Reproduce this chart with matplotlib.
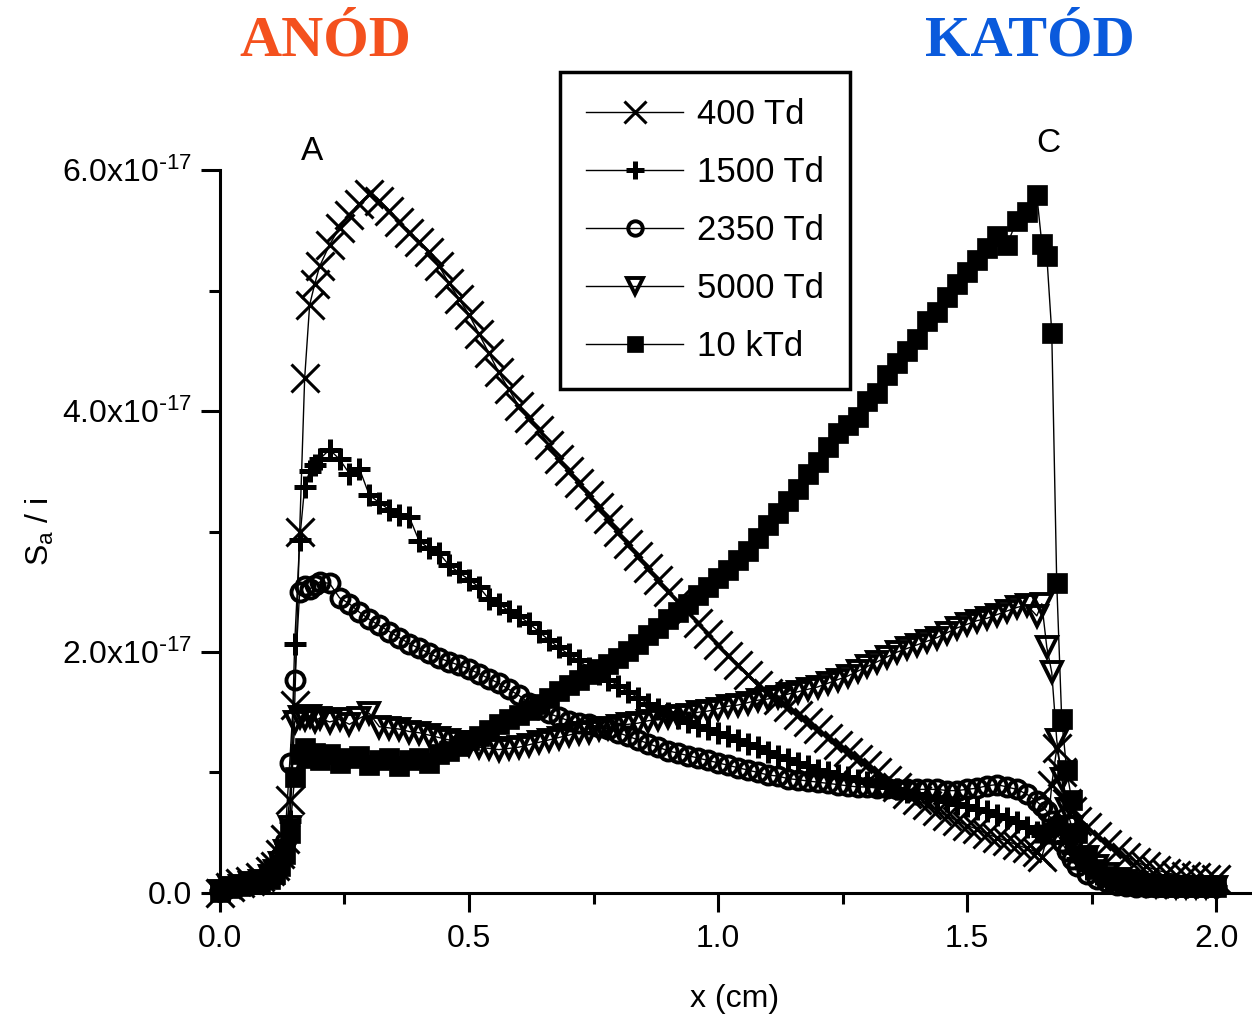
import numpy as np
import matplotlib
matplotlib.use('Agg')
from matplotlib import pyplot as plt
from matplotlib.ticker import FuncFormatter

plt.rcParams['font.family'] = ['Liberation Sans', 'DejaVu Sans']
plt.rcParams['mathtext.default'] = 'regular'

# sample positions (cm): coarse grid plus finer steps at the two edges
x_pos = np.round(np.concatenate([
    np.arange(0.0, 0.101, 0.02),
    np.arange(0.11, 0.2005, 0.01),
    np.arange(0.22, 1.6405, 0.02),
    np.arange(1.65, 1.7205, 0.01),
    np.arange(1.74, 2.0005, 0.02),
]), 2)

# S_a / i in units of 1e-17
s_400 = [0.00, 0.05, 0.08, 0.10, 0.13, 0.18,
         0.22, 0.32, 0.45, 0.77, 1.56, 3.00, 4.27, 4.88, 5.05, 5.20,
         5.38, 5.52, 5.63, 5.72, 5.80, 5.74, 5.66, 5.57, 5.48, 5.40,
         5.32, 5.20, 5.06, 4.93, 4.80, 4.64, 4.48, 4.32, 4.18, 4.04,
         3.94, 3.84, 3.72, 3.60, 3.50, 3.40, 3.30, 3.20, 3.10, 3.00,
         2.90, 2.80, 2.70, 2.60, 2.50, 2.42, 2.33, 2.24, 2.15, 2.06,
         1.97, 1.89, 1.81, 1.73, 1.66, 1.60, 1.54, 1.48, 1.42, 1.36,
         1.29, 1.23, 1.17, 1.11, 1.06, 1.00, 0.94, 0.88, 0.82, 0.77,
         0.73, 0.68, 0.64, 0.60, 0.56, 0.53, 0.49, 0.46, 0.43, 0.40,
         0.37, 0.34,
         0.30, 0.45, 0.90, 1.20, 1.00, 0.75, 0.68, 0.60,
         0.55, 0.47, 0.41, 0.35, 0.30, 0.26, 0.22, 0.19, 0.17, 0.15, 0.14, 0.13, 0.12, 0.12]

s_1500 = [0.02, 0.05, 0.07, 0.09, 0.11, 0.15,
          0.20, 0.30, 0.42, 0.60, 2.07, 2.93, 3.37, 3.50, 3.55, 3.60,
          3.68, 3.60, 3.48, 3.52, 3.30, 3.24, 3.18, 3.14, 3.12, 2.92,
          2.86, 2.82, 2.72, 2.66, 2.60, 2.54, 2.44, 2.40, 2.34, 2.30,
          2.24, 2.17, 2.10, 2.04, 1.98, 1.93, 1.87, 1.82, 1.77, 1.72,
          1.67, 1.62, 1.57, 1.53, 1.49, 1.45, 1.42, 1.39, 1.36, 1.33,
          1.30, 1.27, 1.24, 1.21, 1.17, 1.14, 1.11, 1.08, 1.05, 1.02,
          1.00, 0.98, 0.96, 0.94, 0.92, 0.90, 0.88, 0.86, 0.84, 0.82,
          0.80, 0.78, 0.76, 0.74, 0.72, 0.70, 0.68, 0.65, 0.62, 0.59,
          0.55, 0.51,
          0.48, 0.50, 0.55, 0.60, 0.52, 0.42, 0.34, 0.28,
          0.20, 0.16, 0.12, 0.10, 0.08, 0.07, 0.06, 0.06, 0.05, 0.05, 0.05, 0.05, 0.05, 0.05]

s_2350 = [0.02, 0.05, 0.07, 0.09, 0.11, 0.15,
          0.20, 0.30, 0.42, 1.08, 1.77, 2.50, 2.55, 2.52, 2.56, 2.58,
          2.57, 2.45, 2.40, 2.33, 2.27, 2.22, 2.17, 2.12, 2.07, 2.03,
          1.99, 1.95, 1.92, 1.89, 1.86, 1.82, 1.78, 1.74, 1.69, 1.64,
          1.58, 1.53, 1.49, 1.46, 1.43, 1.41, 1.40, 1.38, 1.36, 1.33,
          1.30, 1.27, 1.24, 1.21, 1.18, 1.16, 1.14, 1.12, 1.10, 1.08,
          1.06, 1.04, 1.02, 1.00, 0.98, 0.97, 0.95, 0.94, 0.93, 0.92,
          0.91, 0.90, 0.89, 0.88, 0.88, 0.87, 0.87, 0.86, 0.86, 0.86,
          0.86, 0.86, 0.85, 0.85, 0.86, 0.87, 0.89, 0.90, 0.88, 0.86,
          0.82, 0.76,
          0.72, 0.68, 0.60, 0.50, 0.42, 0.35, 0.28, 0.22,
          0.16, 0.12, 0.09, 0.07, 0.06, 0.05, 0.05, 0.05, 0.05, 0.05, 0.05, 0.05, 0.05, 0.05]

s_5000 = [0.02, 0.04, 0.06, 0.08, 0.10, 0.14,
          0.18, 0.25, 0.35, 0.55, 1.42, 1.46, 1.44, 1.47, 1.43, 1.45,
          1.42, 1.44, 1.40, 1.45, 1.49, 1.38, 1.37, 1.36, 1.34, 1.33,
          1.31, 1.29, 1.27, 1.25, 1.23, 1.21, 1.20, 1.19, 1.20, 1.21,
          1.23, 1.25, 1.27, 1.29, 1.31, 1.33, 1.34, 1.36, 1.37, 1.39,
          1.40, 1.41, 1.43, 1.44, 1.46, 1.47, 1.48, 1.50, 1.51, 1.53,
          1.55, 1.56, 1.58, 1.60, 1.61, 1.63, 1.65, 1.67, 1.69, 1.71,
          1.74, 1.77, 1.80, 1.84, 1.88, 1.92, 1.96, 2.00, 2.03, 2.06,
          2.09, 2.12, 2.16, 2.20, 2.23, 2.26, 2.28, 2.31, 2.34, 2.37,
          2.39, 2.30,
          2.40, 2.04, 1.83, 1.27, 0.95, 0.70, 0.55, 0.42,
          0.30, 0.22, 0.16, 0.12, 0.10, 0.08, 0.07, 0.06, 0.06, 0.05, 0.05, 0.05, 0.05, 0.05]

s_10k = [0.01, 0.04, 0.06, 0.08, 0.09, 0.12,
         0.16, 0.22, 0.32, 0.50, 0.96, 1.15, 1.20, 1.12, 1.16, 1.10,
         1.15, 1.08, 1.12, 1.14, 1.06, 1.10, 1.12, 1.05, 1.10, 1.12,
         1.08, 1.15, 1.18, 1.22, 1.27, 1.30, 1.35, 1.40, 1.44, 1.48,
         1.52, 1.57, 1.62, 1.68, 1.73, 1.77, 1.82, 1.86, 1.90, 1.95,
         2.01, 2.07, 2.14, 2.20, 2.27, 2.33, 2.40, 2.47, 2.54, 2.61,
         2.68, 2.76, 2.84, 2.95, 3.05, 3.15, 3.25, 3.35, 3.48, 3.58,
         3.70, 3.82, 3.88, 3.95, 4.08, 4.15, 4.30, 4.40, 4.50, 4.60,
         4.75, 4.82, 4.95, 5.05, 5.15, 5.25, 5.35, 5.45, 5.38, 5.58,
         5.65, 5.79,
         5.39, 5.29, 4.65, 2.57, 1.44, 1.02, 0.77, 0.50,
         0.30, 0.20, 0.14, 0.10, 0.08, 0.07, 0.06, 0.05, 0.05, 0.05, 0.05, 0.05, 0.05, 0.05]

labels = ['400 Td', '1500 Td', '2350 Td', '5000 Td', '10 kTd']
series = [s_400, s_1500, s_2350, s_5000, s_10k]
styles = [
    dict(marker='x', ms=20, mew=2.2, mfc='k'),
    dict(marker='+', ms=16, mew=3.6, mfc='k'),
    dict(marker='o', ms=13, mew=2.8, mfc='none'),
    dict(marker='v', ms=15, mew=2.8, mfc='none'),
    dict(marker='s', ms=14, mew=0.5, mfc='k'),
]

x_major = [0.0, 0.5, 1.0, 1.5, 2.0]
x_minor = [0.25, 0.75, 1.25, 1.75]
y_major = [0.0, 2e-17, 4e-17, 6e-17]
y_minor = [1e-17, 3e-17, 5e-17]

fig = plt.figure(figsize=(12.52, 10.15), dpi=100)
ax = fig.add_axes([0.1757, 0.1202, 0.8227, 0.7123])

for s, lab, st in zip(series, labels, styles):
    assert len(s) == len(x_pos)
    ax.plot(x_pos, np.array(s) * 1e-17, color='k', lw=1.0, mec='k',
            label=lab, clip_on=False, **st)

ax.set_xlim(0, 2.068)
ax.set_ylim(0, 6e-17)
ax.spines['top'].set_visible(False)
ax.spines['right'].set_visible(False)
ax.spines['left'].set_linewidth(2.2)
ax.spines['bottom'].set_linewidth(2.2)

ax.set_xticks(x_major)
ax.set_xticks(x_minor, minor=True)
ax.set_yticks(y_major)
ax.set_yticks(y_minor, minor=True)
ax.xaxis.set_major_formatter(FuncFormatter(lambda v, p: f'{v:.1f}'))


def yfmt(v, p):
    if abs(v) < 1e-20:
        return '0.0'
    return f'{v / 1e-17:.1f}x10$^{{\\text{{-}}17}}$'


ax.yaxis.set_major_formatter(FuncFormatter(yfmt))
ax.tick_params(which='major', length=14, width=2.2, labelsize=23, direction='out')
ax.tick_params(which='minor', length=8, width=2.2, direction='out')
ax.tick_params(axis='x', pad=8)
ax.tick_params(axis='y', pad=6)

ax.set_xlabel('x (cm)', fontsize=23, labelpad=22)
ax.set_ylabel('S$_a$ / i', fontsize=23, labelpad=4)

leg = ax.legend(loc='upper left', bbox_to_anchor=(560 / 1252, 1 - 72 / 1015),
                bbox_transform=fig.transFigure, fontsize=25, frameon=True,
                fancybox=False, framealpha=1, borderaxespad=0, handlelength=2.8,
                handletextpad=0.4, labelspacing=0.72, borderpad=0.75,
                markerscale=0.8)
leg.get_frame().set_edgecolor('k')
leg.get_frame().set_linewidth(2.5)

fig.text(312 / 1252, 1 - 152 / 1015, 'A', fontsize=24, ha='center', va='center')
fig.text(1048 / 1252, 1 - 143 / 1015, 'C', fontsize=24, ha='center', va='center')

fig.text(325 / 1252, 1 - 42 / 1015, 'ANÓD', fontsize=42, fontweight='bold',
         family='Liberation Serif', color='#F4511E', ha='center', va='center')
fig.text(1030 / 1252, 1 - 42 / 1015, 'KATÓD', fontsize=42, fontweight='bold',
         family='Liberation Serif', color='#0A5ADC', ha='center', va='center')

fig.savefig('out.png', dpi=100)
